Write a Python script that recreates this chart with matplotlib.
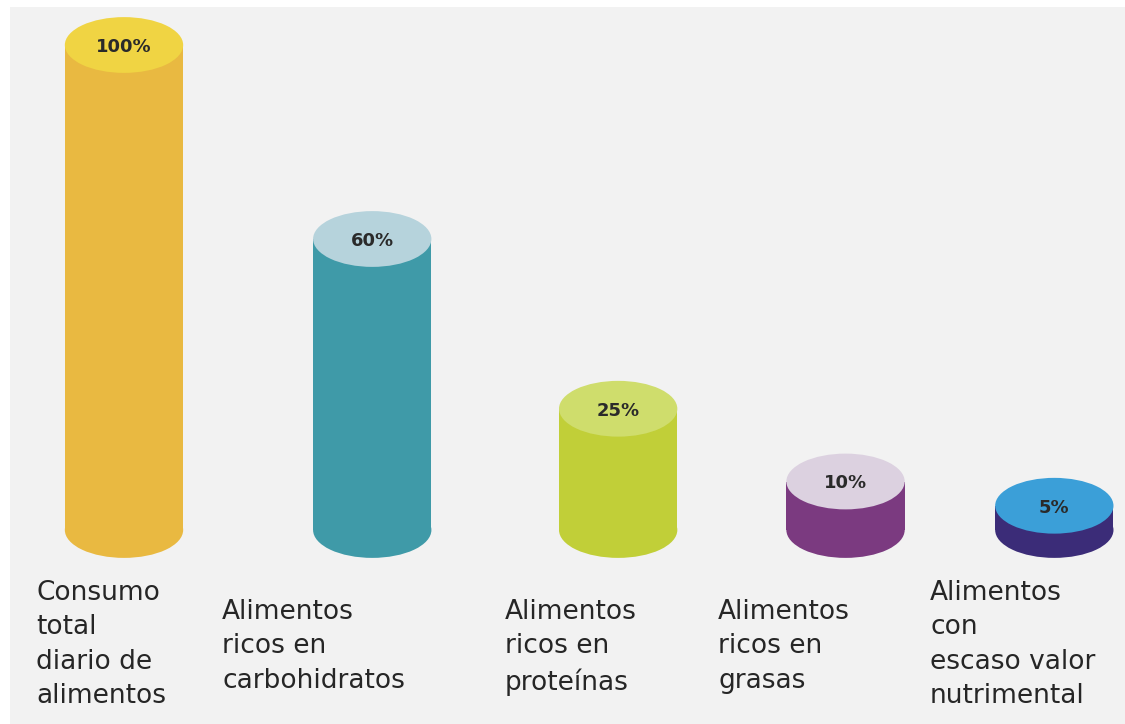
import matplotlib.pyplot as plt
from matplotlib.patches import Ellipse, Rectangle

# data
categories = [
    "Consumo\ntotal\ndiario de\nalimentos",
    "Alimentos\nricos en\ncarbohidratos",
    "Alimentos\nricos en\nproteínas",
    "Alimentos\nricos en\ngrasas",
    "Alimentos\ncon\nescaso valor\nnutrimental",
]
percent = [100, 60, 25, 10, 5]
value_labels = ["100%", "60%", "25%", "10%", "5%"]

# layout / style
side_colors = ["#e9b941", "#3f9aa8", "#c1cf38", "#7b3a80", "#3b2c78"]
top_colors = ["#f0d443", "#b6d3dc", "#cfdd6c", "#dcd1e0", "#3b9fd8"]
x_pos = [0.0, 1.07, 2.13, 3.11, 4.01]
label_px = [(36, 580), (222, 599), (505, 599), (718, 599), (930, 580)]
bar_width = 0.51
cap_height = 11.5


def main():
    fig = plt.figure(figsize=(11.25, 7.24), dpi=100, facecolor="white")
    fig.patches.append(Rectangle((10 / 1125, 0), 1, 1 - 7 / 724,
                                 transform=fig.transFigure,
                                 facecolor="#f2f2f2", edgecolor="none", zorder=-10))

    ax = fig.add_axes([0, 0, 1, 1])
    ax.set_facecolor("none")
    ax.set_xlim(-124 / 232, (1125 - 124) / 232)
    ax.set_ylim(-194 / 4.85, (724 - 194) / 4.85)
    ax.axis("off")

    for x, p, lab, sc, tc in zip(x_pos, percent, value_labels, side_colors, top_colors):
        ax.add_patch(Ellipse((x, 0), bar_width, cap_height, facecolor=sc, edgecolor="none"))
        ax.add_patch(Rectangle((x - bar_width / 2, 0), bar_width, p,
                               facecolor=sc, edgecolor="none"))
        ax.add_patch(Ellipse((x, p), bar_width, cap_height, facecolor=tc, edgecolor="none"))
        ax.text(x, p - 0.4, lab, ha="center", va="center", fontsize=13,
                fontweight="bold", color="#2a2a2a")

    for text, (px, py) in zip(categories, label_px):
        fig.text(px / 1125, 1 - py / 724, text, ha="left", va="top",
                 fontsize=19, color="#262626", linespacing=1.42)

    fig.savefig("out.png", dpi=100, facecolor=fig.get_facecolor())


if __name__ == "__main__":
    main()
